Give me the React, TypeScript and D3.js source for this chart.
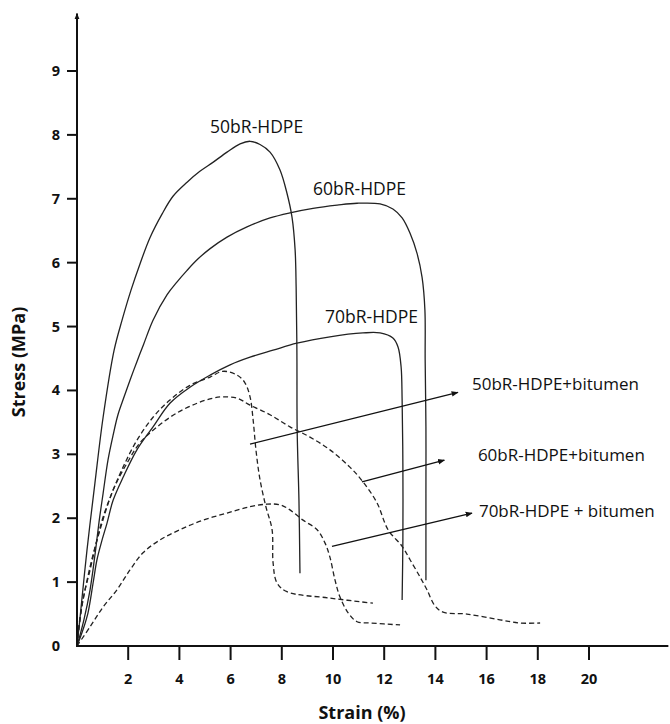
import React from 'react';
import * as d3 from 'd3';

type Pt = [number, number];

// Solid curves (strain %, stress MPa)
const hdpe50: Pt[] = [
  [0, 0], [0.12, 0.45], [0.39, 1.5], [0.7, 2.55], [1.02, 3.58], [1.45, 4.63], [1.76, 5.1],
  [2.11, 5.57], [2.46, 5.98], [2.85, 6.39], [3.32, 6.76], [3.75, 7.04], [4.3, 7.26], [4.8, 7.43],
  [5.31, 7.57], [5.86, 7.73], [6.37, 7.86], [6.76, 7.9], [7.15, 7.85], [7.54, 7.73], [7.93, 7.45],
  [8.2, 7.09], [8.4, 6.71], [8.52, 6.2], [8.56, 5.62], [8.59, 4.59], [8.6, 3.38], [8.67, 2.28], [8.71, 1.14],
];
const hdpe60: Pt[] = [
  [0, 0], [0.27, 0.41], [0.51, 0.88], [0.7, 1.42], [0.86, 1.94], [1.02, 2.39], [1.21, 2.91],
  [1.41, 3.3], [1.6, 3.62], [1.84, 3.9], [2.07, 4.16], [2.34, 4.45], [2.6, 4.72], [2.97, 5.1],
  [3.52, 5.5], [3.91, 5.7], [4.3, 5.88], [4.73, 6.06], [5.2, 6.22], [5.86, 6.4], [6.64, 6.56],
  [7.54, 6.7], [8.32, 6.78], [9.22, 6.85], [10.16, 6.9], [10.94, 6.93], [11.84, 6.92], [12.34, 6.84],
  [12.7, 6.7], [13.01, 6.46], [13.28, 6.15], [13.48, 5.77], [13.59, 5.26], [13.6, 4.48], [13.63, 3.43],
  [13.63, 2.39], [13.63, 1.03],
];
const hdpe70: Pt[] = [
  [0, 0], [0.23, 0.25], [0.43, 0.52], [0.63, 0.99], [0.78, 1.35], [0.98, 1.66], [1.17, 1.92],
  [1.41, 2.28], [1.8, 2.64], [2.34, 3.07], [2.97, 3.43], [3.63, 3.8], [4.41, 4.05], [5.2, 4.24],
  [5.98, 4.4], [6.76, 4.52], [7.66, 4.63], [8.59, 4.74], [9.88, 4.84], [11.17, 4.9], [11.84, 4.9],
  [12.34, 4.82], [12.54, 4.68], [12.66, 4.37], [12.7, 3.85], [12.73, 2.8], [12.73, 1.66], [12.7, 0.72],
];
// Dashed curves (with bitumen)
const hdpe50Bit: Pt[] = [
  [0, 0], [0.23, 0.72], [0.51, 1.19], [0.78, 1.66], [1.02, 2.02], [1.41, 2.44], [1.8, 2.8],
  [2.34, 3.22], [2.97, 3.58], [3.63, 3.85], [4.41, 4.08], [5.2, 4.21], [5.7, 4.3], [6.25, 4.24],
  [6.56, 4.12], [6.76, 3.9], [6.88, 3.54], [6.99, 3.07], [7.15, 2.6], [7.38, 2.18], [7.62, 1.82],
  [7.66, 1.3], [7.81, 0.99], [8.2, 0.85], [9.88, 0.75], [11.56, 0.67],
];
const hdpe60Bit: Pt[] = [
  [0, 0], [0.12, 0.45], [0.51, 1.24], [0.9, 1.82], [1.41, 2.44], [1.95, 2.86], [2.46, 3.18],
  [3.13, 3.43], [3.91, 3.65], [4.69, 3.8], [5.31, 3.88], [5.7, 3.9], [6.25, 3.88], [6.76, 3.77],
  [7.54, 3.62], [8.32, 3.43], [9.1, 3.27], [9.88, 3.07], [10.66, 2.8], [11.17, 2.57], [11.72, 2.24],
  [12.15, 1.82], [12.7, 1.56], [13.01, 1.35], [13.4, 1.08], [13.67, 0.88], [13.98, 0.63], [14.3, 0.53],
  [15.23, 0.5], [16.52, 0.41], [17.3, 0.36], [18.09, 0.36],
];
const hdpe70Bit: Pt[] = [
  [0, 0], [0.51, 0.3], [1.02, 0.61], [1.56, 0.88], [2.07, 1.19], [2.58, 1.46], [3.24, 1.66],
  [4.02, 1.82], [4.92, 1.97], [5.86, 2.08], [6.76, 2.18], [7.42, 2.22], [7.93, 2.21], [8.32, 2.13],
  [8.83, 1.97], [9.38, 1.82], [9.69, 1.61], [9.88, 1.39], [10.08, 1.03], [10.27, 0.77], [10.59, 0.52],
  [10.94, 0.38], [11.45, 0.36], [12.62, 0.33],
];

const xTicks = [2, 4, 6, 8, 10, 12, 14, 16, 18, 20];
const yTicks = [1, 2, 3, 4, 5, 6, 7, 8, 9];

const curveLabels = [
  { text: '50bR-HDPE', x: 5.2, y: 8.12 },
  { text: '60bR-HDPE', x: 9.22, y: 7.15 },
  { text: '70bR-HDPE', x: 9.69, y: 5.15 },
];
const arrowLabels = [
  { text: '50bR-HDPE+bitumen', x: 15.43, y: 4.1 },
  { text: '60bR-HDPE+bitumen', x: 15.66, y: 2.99 },
  { text: '70bR-HDPE + bitumen', x: 15.7, y: 2.11 },
];
const arrows = [
  { x1: 6.76, y1: 3.16, x2: 14.88, y2: 3.97 },
  { x1: 11.13, y1: 2.57, x2: 14.35, y2: 2.91 },
  { x1: 9.96, y1: 1.56, x2: 15.43, y2: 2.08 },
];

const series = [
  { data: hdpe50, dashed: false },
  { data: hdpe60, dashed: false },
  { data: hdpe70, dashed: false },
  { data: hdpe50Bit, dashed: true },
  { data: hdpe60Bit, dashed: true },
  { data: hdpe70Bit, dashed: true },
];

export default function App() {
  const W = 670, H = 724;
  const x = d3.scaleLinear().domain([0, 20]).range([77, 589]);
  const y = d3.scaleLinear().domain([0, 9]).range([646, 71]);
  const line = d3.line<Pt>().x(d => x(d[0])).y(d => y(d[1])).curve(d3.curveCatmullRom.alpha(0.5));
  const font = "'Open Sans', 'Liberation Sans', sans-serif";

  return (
    <svg width={W} height={H} style={{ position: 'absolute', left: 0, top: 0, background: '#fff' }}>
      <defs>
        <marker id="arr" viewBox="0 0 10 10" refX="9" refY="5" markerWidth="7" markerHeight="7" orient="auto" markerUnits="userSpaceOnUse">
          <path d="M0,1 L10,5 L0,9 Z" fill="#111" />
        </marker>
        <marker id="yarr" viewBox="0 0 10 10" refX="5" refY="1" markerWidth="6" markerHeight="7" orient="0" markerUnits="userSpaceOnUse">
          <path d="M1,10 L5,0 L9,10 Z" fill="#111" />
        </marker>
      </defs>

      {series.map((s, i) => (
        <path key={i} d={line(s.data) || ''} fill="none" stroke="#222" strokeWidth={1.3}
          strokeDasharray={s.dashed ? '5,3' : undefined} />
      ))}

      {arrows.map((a, i) => (
        <line key={i} x1={x(a.x1)} y1={y(a.y1)} x2={x(a.x2)} y2={y(a.y2)} stroke="#111" strokeWidth={1.4} markerEnd="url(#arr)" />
      ))}

      <line x1={x(0)} y1={y(0)} x2={x(0)} y2={y(9.9)} stroke="#111" strokeWidth={2} markerEnd="url(#yarr)" />
      <line x1={x(0) - 1} y1={y(0)} x2={x(23.1)} y2={y(0)} stroke="#111" strokeWidth={2} />
      {xTicks.map(t => (
        <g key={t}>
          <line x1={x(t)} x2={x(t)} y1={y(0)} y2={y(0) + 14} stroke="#111" strokeWidth={2} />
          <text x={x(t)} y={y(0) + 38} textAnchor="middle" fontFamily={font} fontWeight="bold" fontSize={14.5} fill="#111">{t}</text>
        </g>
      ))}
      {yTicks.map(t => (
        <g key={t}>
          <line x1={x(0) - 10} x2={x(0)} y1={y(t)} y2={y(t)} stroke="#111" strokeWidth={2} />
          <text x={x(0) - 17} y={y(t) + 5} textAnchor="end" fontFamily={font} fontWeight="bold" fontSize={14.5} fill="#111">{t}</text>
        </g>
      ))}
      <text x={x(0) - 17} y={y(0) + 5} textAnchor="end" fontFamily={font} fontWeight="bold" fontSize={14.5} fill="#111">0</text>

      <text x={362} y={719} textAnchor="middle" fontFamily={font} fontWeight="bold" fontSize={18} fill="#111">Strain (%)</text>
      <text transform={`translate(25,362) rotate(-90)`} textAnchor="middle" fontFamily={font} fontWeight="bold" fontSize={18} fill="#111">Stress (MPa)</text>

      {curveLabels.map((l, i) => (
        <text key={i} x={x(l.x)} y={y(l.y) + 6} fontFamily={font} fontSize={17.5} fill="#111">{l.text}</text>
      ))}
      {arrowLabels.map((l, i) => (
        <text key={i} x={x(l.x)} y={y(l.y) + 6} fontFamily={font} fontSize={17} fill="#111">{l.text}</text>
      ))}
    </svg>
  );
}
